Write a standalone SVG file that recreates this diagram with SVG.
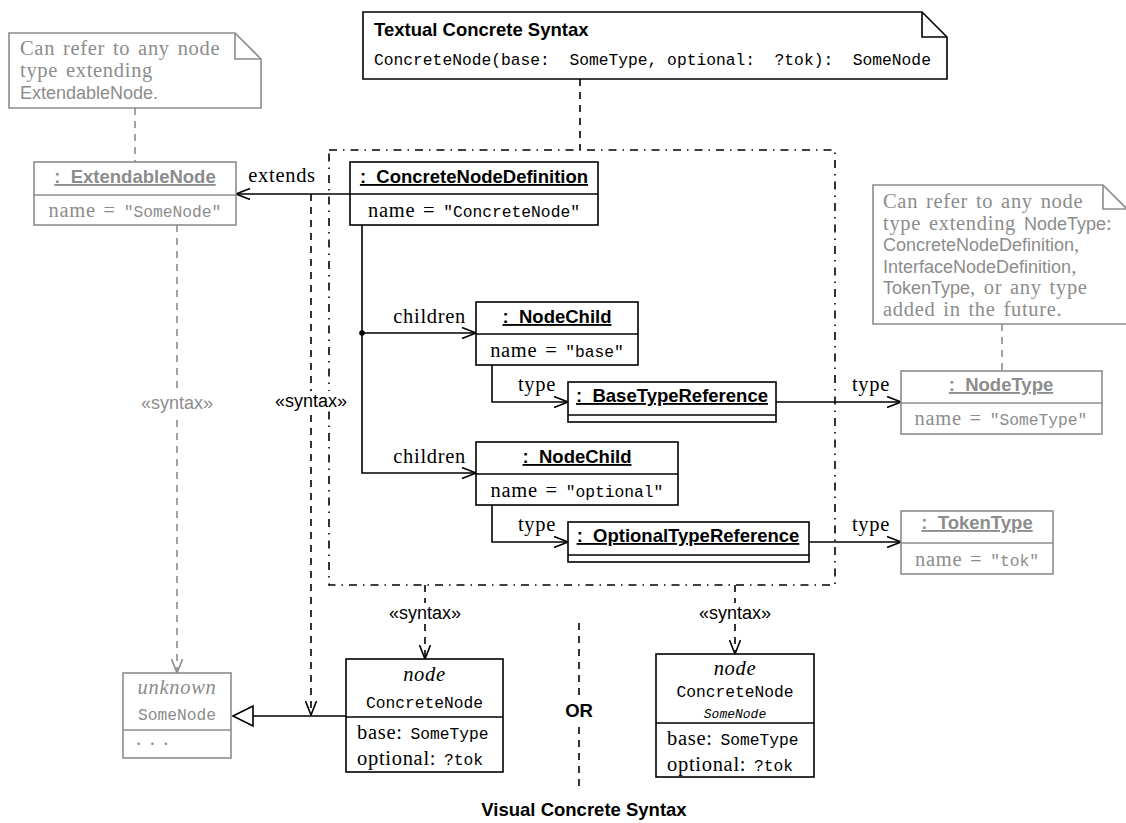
<svg xmlns="http://www.w3.org/2000/svg" width="1126" height="823" viewBox="0 0 1126 823">
<style>
.bx{fill:#fff;stroke:#000;stroke-width:1.6}
.gbx{fill:#fff;stroke:#8c8c8c;stroke-width:1.6}
.ln{fill:none;stroke:#000;stroke-width:1.6}
.gln{fill:none;stroke:#8c8c8c;stroke-width:1.6}
.dash{fill:none;stroke:#000;stroke-width:1.6;stroke-dasharray:7 6}
.gdash{fill:none;stroke:#8c8c8c;stroke-width:1.6;stroke-dasharray:7 6}
.dd{fill:none;stroke:#000;stroke-width:1.6;stroke-dasharray:8 6 1.5 6}
.serif{font-family:"Liberation Serif",serif;font-size:20.5px;letter-spacing:0.7px;word-spacing:2px}
.mono{font-family:"Liberation Mono",monospace;font-size:16.3px;letter-spacing:0;word-spacing:0}
.sans{font-family:"Liberation Sans",sans-serif;font-size:18px;letter-spacing:0;word-spacing:0}
.bold{font-family:"Liberation Sans",sans-serif;font-size:18.5px;font-weight:bold;letter-spacing:0}
.title{font-family:"Liberation Sans",sans-serif;font-size:18.5px;font-weight:bold;text-decoration:underline;white-space:pre}
.it{font-style:italic}
.g{fill:#8c8c8c}
.pre{white-space:pre}
</style>
<defs>
<marker id="arr" viewBox="0 0 16 12" refX="15" refY="6" markerWidth="16" markerHeight="12" markerUnits="userSpaceOnUse" orient="auto">
<path d="M1,0.5 L15,6 L1,11.5" fill="none" stroke="#000" stroke-width="1.6"/>
</marker>
<marker id="garr" viewBox="0 0 16 12" refX="15" refY="6" markerWidth="16" markerHeight="12" markerUnits="userSpaceOnUse" orient="auto">
<path d="M1,0.5 L15,6 L1,11.5" fill="none" stroke="#8c8c8c" stroke-width="1.6"/>
</marker>
</defs>
<rect width="1126" height="823" fill="#fff"/>

<g id="connectors">
<line class="gdash" x1="135" y1="108" x2="135" y2="162"/>
<line class="dash" x1="580" y1="79" x2="580" y2="150"/>
<line class="gdash" x1="1002" y1="324" x2="1002" y2="371"/>
<rect class="dd" x="329" y="150" width="506" height="435"/>
<line class="ln" x1="350" y1="194" x2="236" y2="194" marker-end="url(#arr)"/>
<line class="dash" x1="311" y1="194" x2="311" y2="715" marker-end="url(#arr)"/>
<line class="gdash" x1="177" y1="225" x2="177" y2="673" marker-end="url(#garr)"/>
<polyline class="ln" points="362,225 362,473 476,473" marker-end="url(#arr)"/>
<line class="ln" x1="362" y1="333" x2="476" y2="333" marker-end="url(#arr)"/>
<circle cx="362" cy="333" r="2.8" fill="#000"/>
<polyline class="ln" points="492,365 492,402 568,402" marker-end="url(#arr)"/>
<polyline class="ln" points="492,505 492,542 568,542" marker-end="url(#arr)"/>
<line class="ln" x1="776" y1="402" x2="901" y2="402" marker-end="url(#arr)"/>
<line class="ln" x1="809" y1="542" x2="901" y2="542" marker-end="url(#arr)"/>
<line class="dash" x1="425" y1="585" x2="425" y2="659" marker-end="url(#arr)"/>
<line class="dash" x1="735" y1="585" x2="735" y2="654" marker-end="url(#arr)"/>
<line class="ln" x1="346" y1="716" x2="253" y2="716"/>
<path d="M233,716 L253,706 L253,726 Z" fill="#fff" stroke="#000" stroke-width="1.6"/>
<line class="dash" x1="579" y1="623" x2="579" y2="792"/>
<text class="serif" x="282" y="182" text-anchor="middle">extends</text>
<text class="serif" x="466" y="323" text-anchor="end">children</text>
<text class="serif" x="466" y="463" text-anchor="end">children</text>
<text class="serif" x="537" y="391" text-anchor="middle">type</text>
<text class="serif" x="537" y="531" text-anchor="middle">type</text>
<text class="serif" x="871" y="391" text-anchor="middle">type</text>
<text class="serif" x="871" y="531" text-anchor="middle">type</text>
<rect x="268" y="391" width="86" height="20" fill="#fff"/>
<text class="sans" x="311" y="407" text-anchor="middle">«syntax»</text>
<rect x="140" y="394" width="74" height="20" fill="#fff"/>
<text class="sans g" x="177" y="409" text-anchor="middle">«syntax»</text>
<rect x="385" y="603" width="80" height="20" fill="#fff"/>
<text class="sans" x="425" y="619" text-anchor="middle">«syntax»</text>
<rect x="695" y="603" width="80" height="20" fill="#fff"/>
<text class="sans" x="735" y="619" text-anchor="middle">«syntax»</text>
<rect x="562" y="700" width="34" height="22" fill="#fff"/>
<text class="bold" x="579" y="717" text-anchor="middle">OR</text>
</g>

<g id="note-extendable">
<path class="gbx" d="M9,33 H235 L261,59 V108 H9 Z"/>
<path class="gln" d="M235,33 V59 H261"/>
<text class="serif g" x="20" y="55">Can refer to any node</text>
<text class="serif g" x="20" y="77">type extending</text>
<text class="sans g" x="20" y="99">ExtendableNode.</text>
</g>

<g id="note-textual">
<path class="bx" d="M363,12 H922 L947,37 V79 H363 Z"/>
<path class="ln" d="M922,12 V37 H947"/>
<text class="bold" x="374" y="36">Textual Concrete Syntax</text>
<text class="mono pre" x="374" y="65">ConcreteNode(base:  SomeType, optional:  ?tok):  SomeNode</text>
</g>

<g id="extendable-node">
<rect class="gbx" x="34" y="162" width="202" height="63"/>
<line class="gln" x1="34" y1="195" x2="236" y2="195"/>
<text class="title g" x="135" y="183" text-anchor="middle">:  ExtendableNode</text>
<text class="serif g" x="135" y="217" text-anchor="middle">name = <tspan class="mono">"SomeNode"</tspan></text>
</g>

<g id="concrete-node-definition">
<rect class="bx" x="350" y="162" width="248" height="63"/>
<line class="ln" x1="350" y1="194" x2="598" y2="194"/>
<text class="title" x="474" y="183" text-anchor="middle">:  ConcreteNodeDefinition</text>
<text class="serif" x="474" y="217" text-anchor="middle">name = <tspan class="mono">"ConcreteNode"</tspan></text>
</g>

<g id="node-child-base">
<rect class="bx" x="476" y="302" width="162" height="63"/>
<line class="ln" x1="476" y1="334" x2="638" y2="334"/>
<text class="title" x="557" y="323" text-anchor="middle">:  NodeChild</text>
<text class="serif" x="557" y="357" text-anchor="middle">name = <tspan class="mono">"base"</tspan></text>
</g>

<g id="base-type-reference">
<rect class="bx" x="568" y="382" width="208" height="40"/>
<line class="ln" x1="568" y1="415" x2="776" y2="415"/>
<text class="title" x="672" y="402" text-anchor="middle">:  BaseTypeReference</text>
</g>

<g id="node-child-optional">
<rect class="bx" x="476" y="442" width="202" height="63"/>
<line class="ln" x1="476" y1="474" x2="678" y2="474"/>
<text class="title" x="577" y="463" text-anchor="middle">:  NodeChild</text>
<text class="serif" x="577" y="497" text-anchor="middle">name = <tspan class="mono">"optional"</tspan></text>
</g>

<g id="optional-type-reference">
<rect class="bx" x="568" y="522" width="241" height="40"/>
<line class="ln" x1="568" y1="555" x2="809" y2="555"/>
<text class="title" x="688" y="542" text-anchor="middle">:  OptionalTypeReference</text>
</g>

<g id="note-nodetype">
<path class="gbx" d="M873,185 H1103 L1127,209 V324 H873 Z"/>
<path class="gln" d="M1103,185 V209 H1127"/>
<text class="serif g" x="883" y="208">Can refer to any node</text>
<text class="serif g" x="883" y="230">type extending <tspan class="sans">NodeType</tspan>:</text>
<text class="sans g" x="883" y="251">ConcreteNodeDefinition<tspan class="serif">,</tspan></text>
<text class="sans g" x="883" y="273">InterfaceNodeDefinition<tspan class="serif">,</tspan></text>
<text class="sans g" x="883" y="294">TokenType<tspan class="serif">, or any type</tspan></text>
<text class="serif g" x="883" y="316">added in the future.</text>
</g>

<g id="node-type">
<rect class="gbx" x="901" y="371" width="201" height="63"/>
<line class="gln" x1="901" y1="403" x2="1102" y2="403"/>
<text class="title g" x="1001" y="391" text-anchor="middle">:  NodeType</text>
<text class="serif g" x="1001" y="425" text-anchor="middle">name = <tspan class="mono">"SomeType"</tspan></text>
</g>

<g id="token-type">
<rect class="gbx" x="901" y="511" width="152" height="63"/>
<line class="gln" x1="901" y1="543" x2="1053" y2="543"/>
<text class="title g" x="977" y="529" text-anchor="middle">:  TokenType</text>
<text class="serif g" x="977" y="566" text-anchor="middle">name = <tspan class="mono">"tok"</tspan></text>
</g>

<g id="some-node">
<rect class="gbx" x="123" y="673" width="108" height="85"/>
<line class="gln" x1="123" y1="730" x2="231" y2="730"/>
<text class="serif it g" x="177" y="694" text-anchor="middle">unknown</text>
<text class="mono g" x="177" y="720" text-anchor="middle">SomeNode</text>
<text class="serif g" x="136" y="745">. . .</text>
</g>

<g id="visual-node-1">
<rect class="bx" x="346" y="659" width="157" height="113"/>
<line class="ln" x1="346" y1="717" x2="503" y2="717"/>
<text class="serif it" x="424.5" y="681" text-anchor="middle">node</text>
<text class="mono" x="424.5" y="708" text-anchor="middle">ConcreteNode</text>
<text class="serif" x="357" y="739">base: <tspan class="mono">SomeType</tspan></text>
<text class="serif" x="357" y="765">optional: <tspan class="mono">?tok</tspan></text>
</g>

<g id="visual-node-2">
<rect class="bx" x="656" y="654" width="158" height="123"/>
<line class="ln" x1="656" y1="723" x2="814" y2="723"/>
<text class="serif it" x="735" y="675" text-anchor="middle">node</text>
<text class="mono" x="735" y="697" text-anchor="middle">ConcreteNode</text>
<text class="mono it" x="735" y="718" text-anchor="middle" style="font-size:13px">SomeNode</text>
<text class="serif" x="667" y="745">base: <tspan class="mono">SomeType</tspan></text>
<text class="serif" x="667" y="771">optional: <tspan class="mono">?tok</tspan></text>
</g>

<g id="caption">
<text class="bold" x="584" y="816" text-anchor="middle">Visual Concrete Syntax</text>
</g>
</svg>
